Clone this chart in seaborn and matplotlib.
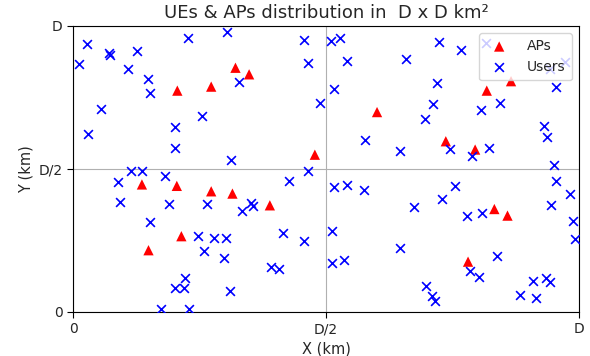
import matplotlib
matplotlib.use("Agg")
import matplotlib.pyplot as plt
import seaborn as sns
import pandas as pd

# AP positions (fraction of D)
ap_x = [0.206, 0.273, 0.321, 0.348, 0.478,
        0.601, 0.737, 0.795, 0.818, 0.866,
        0.136, 0.205, 0.273, 0.315, 0.389, 0.214, 0.149,
        0.833, 0.859, 0.781]
ap_y = [0.774, 0.788, 0.854, 0.831, 0.550,
        0.699, 0.597, 0.568, 0.774, 0.807,
        0.446, 0.441, 0.422, 0.414, 0.373, 0.265, 0.216,
        0.360, 0.337, 0.176]

# User positions (fraction of D)
ue_x = [0.027, 0.012, 0.070, 0.073, 0.126, 0.109, 0.148, 0.152, 0.056, 0.030,
        0.228, 0.304, 0.327, 0.255, 0.201, 0.202, 0.312, 0.456, 0.464, 0.489,
        0.510, 0.528, 0.542, 0.516, 0.723, 0.768, 0.658, 0.719, 0.712, 0.695,
        0.578, 0.646, 0.746, 0.788, 0.823, 0.806, 0.844, 0.931, 0.937, 0.954,
        0.950, 0.816, 0.943, 0.972,
        0.115, 0.136, 0.088, 0.092, 0.182, 0.190, 0.151, 0.264, 0.333, 0.351,
        0.356, 0.426, 0.464, 0.415, 0.457, 0.246, 0.279, 0.302, 0.259, 0.298,
        0.391, 0.407, 0.222, 0.201, 0.220, 0.310, 0.173, 0.230,
        0.516, 0.541, 0.575, 0.512, 0.511, 0.536, 0.674, 0.730, 0.756, 0.779,
        0.808, 0.646, 0.839, 0.784, 0.802, 0.697, 0.709, 0.715, 0.884, 0.916,
        0.910, 0.936, 0.944, 0.955, 0.982, 0.946, 0.988, 0.993]
ue_y = [0.936, 0.868, 0.905, 0.900, 0.913, 0.850, 0.815, 0.766, 0.711, 0.621,
        0.958, 0.978, 0.804, 0.686, 0.647, 0.573, 0.530, 0.952, 0.869, 0.732,
        0.949, 0.957, 0.879, 0.779, 0.943, 0.917, 0.885, 0.802, 0.728, 0.675,
        0.600, 0.563, 0.571, 0.547, 0.572, 0.707, 0.732, 0.650, 0.613, 0.788,
        0.514, 0.939, 0.848, 0.875,
        0.493, 0.493, 0.453, 0.384, 0.476, 0.377, 0.316, 0.379, 0.354, 0.381,
        0.369, 0.459, 0.493, 0.277, 0.247, 0.265, 0.260, 0.260, 0.214, 0.190,
        0.157, 0.150, 0.120, 0.085, 0.083, 0.075, 0.010, 0.010,
        0.436, 0.444, 0.428, 0.283, 0.171, 0.181, 0.367, 0.395, 0.442, 0.337,
        0.347, 0.223, 0.197, 0.142, 0.124, 0.090, 0.056, 0.038, 0.058, 0.050,
        0.108, 0.120, 0.106, 0.459, 0.412, 0.373, 0.319, 0.256]

tick_pos = [0, 0.5, 1]
tick_labels = ["0", "D/2", "D"]

sns.set_style("white")
plt.rcParams['font.family'] = ['DejaVu Sans']

fig = plt.figure(figsize=(5.9, 3.56), dpi=100)
ax = fig.add_axes([0.124, 0.1236, 0.857, 0.8034])

aps = pd.DataFrame({"x": ap_x, "y": ap_y})
ues = pd.DataFrame({"x": ue_x, "y": ue_y})

sns.scatterplot(data=aps, x="x", y="y", ax=ax, marker="^", color="red",
                s=55, edgecolor="none", label="APs", zorder=3)
sns.scatterplot(data=ues, x="x", y="y", ax=ax, marker="x", color="blue",
                s=40, linewidth=1.2, label="Users", zorder=3)

ax.set_xlim(0, 1)
ax.set_ylim(0, 1)
ax.set_xticks(tick_pos)
ax.set_xticklabels(tick_labels)
ax.set_yticks(tick_pos)
ax.set_yticklabels(tick_labels)
ax.tick_params(axis="both", which="both", length=4, width=0.8, labelsize=10,
               bottom=True, left=True, color="black")
ax.grid(True, color="#b0b0b0", linewidth=0.8)
for sp in ax.spines.values():
    sp.set_color("black")
    sp.set_linewidth(0.8)
ax.set_xlabel("X (km)", fontsize=10.5)
ax.set_ylabel("Y (km)", fontsize=10.5)
ax.set_title("UEs & APs distribution in  D x D km²", fontsize=13)
leg = ax.legend(loc="upper right", fontsize=10, framealpha=0.8,
                edgecolor="#cccccc", fancybox=True, handletextpad=1.0,
                borderpad=0.45)

fig.savefig("out.png", dpi=100)
